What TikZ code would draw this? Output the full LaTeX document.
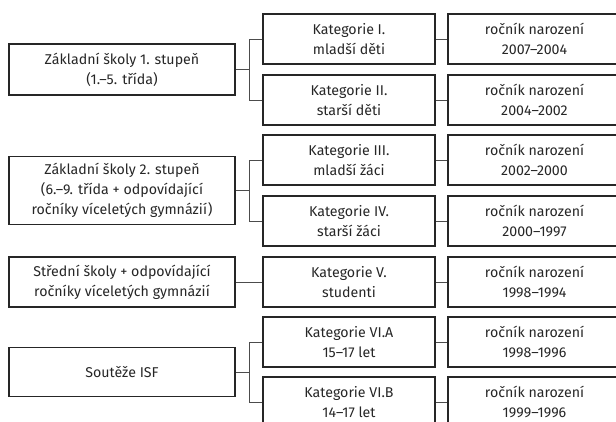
\documentclass[tikz,border=0pt]{standalone}
\usepackage{fontspec}
\setmainfont{Fira Sans}
\begin{document}
\begin{tikzpicture}[x=1pt,y=-1pt,
  box/.style={draw=black!85,line width=1.1pt,align=center,inner sep=0pt,
    font=\fontsize{14.2}{20}\selectfont,text=black!85},
  lbox/.style={box,minimum width=226pt},
  mbox/.style={box,minimum width=172pt,minimum height=50pt},
  rbox/.style={box,minimum width=173pt,minimum height=50pt},
  conn/.style={draw=black!70,line width=0.8pt}]
\useasboundingbox (0,0) rectangle (616,421);
\clip (0,0) rectangle (616,421);
% left column
\node[lbox,minimum height=51pt] (L1) at (122,69.5) {Základní školy 1. stupeň\\(1.–5. třída)};
\node[lbox,minimum height=68pt] (L2) at (122,190.5) {Základní školy 2. stupeň\\(6.–9. třída + odpovídající\\ročníky víceletých gymnázií)};
\node[lbox,minimum height=50pt] (L3) at (122,282) {Střední školy + odpovídající\\ročníky víceletých gymnázií};
\node[lbox,minimum height=49pt] (L4) at (122,372) {Soutěže ISF};
% middle column
\node[mbox] (M1) at (349,39) {Kategorie I.\\mladší děti};
\node[mbox] (M2) at (349,100) {Kategorie II.\\starší děti};
\node[mbox] (M3) at (349,160) {Kategorie III.\\mladší žáci};
\node[mbox] (M4) at (349,221) {Kategorie IV.\\starší žáci};
\node[mbox] (M5) at (349,282) {Kategorie V.\\studenti};
\node[mbox] (M6) at (349,342) {Kategorie VI.A\\15–17 let};
\node[mbox] (M7) at (349,402) {Kategorie VI.B\\14–17 let};
% right column
\node[rbox] (R1) at (534.5,39) {ročník narození\\2007–2004};
\node[rbox] (R2) at (534.5,100) {ročník narození\\2004–2002};
\node[rbox] (R3) at (534.5,160) {ročník narození\\2002–2000};
\node[rbox] (R4) at (534.5,221) {ročník narození\\2000–1997};
\node[rbox] (R5) at (534.5,282) {ročník narození\\1998–1994};
\node[rbox] (R6) at (534.5,342) {ročník narození\\1998–1996};
\node[rbox] (R7) at (534.5,402) {ročník narození\\1999–1996};
% connectors left-middle
\path[conn] (M1.west) -- ++(-13,0) coordinate (j1) |- (M2.west);
\path[conn] (L1.east) -- (L1.east -| j1);
\path[conn] (M3.west) -- ++(-13,0) coordinate (j2) |- (M4.west);
\path[conn] (L2.east) -- (L2.east -| j2);
\path[conn] (L3.east) -- (M5.west);
\path[conn] (M6.west) -- ++(-13,0) coordinate (j3) |- (M7.west);
\path[conn] (L4.east) -- (L4.east -| j3);
% connectors middle-right
\foreach \i in {1,...,7} {\path[conn] (M\i.east) -- (R\i.west);}
\end{tikzpicture}
\end{document}
